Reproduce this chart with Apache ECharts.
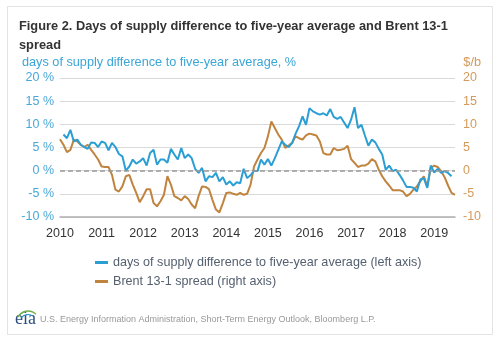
<!DOCTYPE html>
<html>
<head>
<meta charset="utf-8">
<script src="https://cdn.jsdelivr.net/npm/echarts@6/dist/echarts.min.js"></script>
<style>
html,body{margin:0;padding:0;background:#fff;}
#c{width:500px;height:340px;}
</style>
</head>
<body>
<div id="c"></div>
<script>
// Monthly categories Jan 2010 .. Jul 2019
var months = [];
for (var y = 2010; y <= 2019; y++) {
  for (var m = 1; m <= 12; m++) {
    if (y === 2019 && m > 7) break;
    months.push(y + '-' + (m < 10 ? '0' + m : m));
  }
}
var yearTicks = ['2010','2011','2012','2013','2014','2015','2016','2017','2018','2019'];
var leftTicks = [-10, -5, 0, 5, 10, 15, 20];

// days of supply difference to five-year average, %
var daysSupply = [
  null, 7.8, 7.0, 8.8, 6.3, 6.7, 5.6, 5.1, 4.7, 6.1, 6.0, 5.1,
  6.3, 6.0, 4.4, 6.0, 5.1, 3.6, 3.1, 0.0, 0.9, 2.4, 1.5, 2.0,
  2.7, 1.1, 3.8, 4.5, 1.3, 2.4, 2.4, 1.7, 4.7, 3.5, 2.4, 4.9,
  2.7, 3.5, 2.7, 0.4, -0.5, 0.6, -2.3, -1.2, -1.4, -0.5, -2.3, -1.4,
  -3.0, -2.3, -3.2, -2.5, -2.7, 0.4, -1.6, -1.0, 0.0, -0.1, 2.4, 1.3,
  2.5, 1.1, 2.7, 4.5, 6.3, 5.6, 5.1, 6.0, 8.0, 9.6, 11.7, 9.9,
  13.5, 12.8, 12.4, 12.1, 12.4, 11.9, 13.3, 11.6, 11.2, 11.6, 10.4, 9.2,
  11.0, 13.7, 9.2, 9.9, 7.6, 5.4, 6.7, 6.1, 4.7, 3.5, 0.2, 1.1,
  -0.1, 0.2, -0.9, -2.1, -3.5, -3.5, -3.7, -4.5, -1.9, -1.6, -3.7, 1.1,
  -0.4, 0.4, -0.5, -0.1, -0.5, -1.2, null
];
// Brent 13-1 spread, $/b
var brentSpread = [
  6.8, 5.6, 4.0, 4.5, 6.7, 6.3, 5.6, 5.1, 5.6, 4.5, 3.5, 2.4,
  0.9, 0.8, 0.8, -0.9, -4.1, -4.5, -3.4, -1.2, -0.9, -3.0, -4.8, -6.8,
  -5.5, -4.0, -4.0, -7.0, -7.7, -6.6, -5.2, -1.2, -3.0, -5.5, -5.9, -6.4,
  -5.5, -6.1, -7.3, -8.1, -5.5, -3.4, -3.5, -4.0, -6.3, -8.4, -9.0, -7.0,
  -4.8, -4.7, -5.0, -5.2, -4.8, -5.2, -5.0, -3.0, 0.9, 2.4, 3.8, 4.9,
  7.4, 10.6, 9.2, 7.8, 6.7, 4.9, 5.4, 6.0, 7.4, 7.0, 6.7, 7.6,
  8.0, 7.8, 7.6, 6.3, 3.8, 3.5, 3.5, 4.9, 4.4, 4.5, 4.7, 5.4,
  2.5, 1.7, 0.8, 1.1, 1.1, 1.5, 2.5, 2.0, 0.2, -1.2, -2.3, -3.2,
  -4.2, -4.2, -4.2, -4.5, -5.5, -5.0, -4.1, -3.4, -2.3, -1.2, -3.4, 0.6,
  1.1, 0.8, -0.1, -1.4, -3.2, -4.8, -5.2
];

var BLUE = '#2b9fd4';
var BROWN = '#c0843f';

var chart = echarts.init(document.getElementById('c'), null, {renderer: 'canvas'});
chart.setOption({
  animation: false,
  backgroundColor: '#fff',
  textStyle: {fontFamily: 'Liberation Sans, Arial, sans-serif'},
  grid: {left: 60, right: 45, top: 78, bottom: 123},
  graphic: [
    {type: 'rect', shape: {x: 7.5, y: 6.5, width: 485, height: 328}, style: {fill: 'none', stroke: '#e3e3e3', lineWidth: 1}, silent: true},
    {type: 'text', left: 19, top: 17, style: {text: 'Figure 2. Days of supply difference to five-year average and Brent 13-1\nspread', fill: '#333', font: 'bold 12.8px Liberation Sans, Arial, sans-serif', lineHeight: 19}},
    {type: 'text', left: 22, top: 56, style: {text: 'days of supply difference to five-year average, %', fill: '#3aa6d8', font: '12.7px Liberation Sans, Arial, sans-serif'}},
    {type: 'text', right: 19, top: 56, style: {text: '$/b', fill: '#d49a5a', font: '12.7px Liberation Sans, Arial, sans-serif'}},
    {type: 'text', left: 15, top: 310, style: {text: 'eia', fill: '#2c4f7e', font: '18px Liberation Serif, serif'}},
    {type: 'arc', shape: {cx: 28, cy: 322, r: 11, startAngle: Math.PI * 1.15, endAngle: Math.PI * 1.75}, style: {stroke: '#6fb04a', fill: 'none', lineWidth: 1.5}},
    {type: 'arc', shape: {cx: 28, cy: 323, r: 8.5, startAngle: Math.PI * 1.2, endAngle: Math.PI * 1.7}, style: {stroke: '#2a8fc8', fill: 'none', lineWidth: 1.2}},
    {type: 'text', left: 40, top: 315, style: {text: 'U.S. Energy Information Administration, Short-Term Energy Outlook, Bloomberg L.P.', fill: '#999', font: '9px Liberation Sans, Arial, sans-serif'}}
  ],
  legend: {
    orient: 'vertical',
    left: 90,
    top: 251,
    itemGap: 6,
    itemWidth: 13,
    itemHeight: 3,
    icon: 'rect',
    textStyle: {color: '#556070', fontSize: 12.6},
    data: ['days of supply difference to five-year average (left axis)', 'Brent 13-1 spread (right axis)']
  },
  xAxis: {
    type: 'category',
    data: months,
    boundaryGap: false,
    axisLine: {onZero: false, lineStyle: {color: '#b0b0b0', width: 1.5}},
    axisTick: {show: false},
    axisLabel: {
      interval: 11,
      margin: 10,
      color: '#333',
      fontSize: 12.5,
      formatter: function (v) { var y = v.slice(0, 4); return yearTicks.indexOf(y) >= 0 && v.slice(5) === '01' ? y : ''; }
    },
    splitLine: {show: false}
  },
  yAxis: [
    {
      type: 'value', min: leftTicks[0], max: leftTicks[leftTicks.length - 1], interval: 5,
      axisLine: {show: false}, axisTick: {show: false},
      axisLabel: {color: '#4aa8d8', fontSize: 12.5, margin: 6, formatter: function (v) { return v + ' %'; }},
      splitLine: {lineStyle: {color: '#d9d9d9', width: 1}}
    },
    {
      type: 'value', min: leftTicks[0], max: leftTicks[leftTicks.length - 1], interval: 5, position: 'right',
      axisLine: {show: false}, axisTick: {show: false},
      axisLabel: {color: '#d49a5a', fontSize: 12.5, margin: 8},
      splitLine: {show: false}
    }
  ],
  series: [
    {
      name: 'days of supply difference to five-year average (left axis)',
      type: 'line', yAxisIndex: 0, data: daysSupply, symbol: 'none', connectNulls: false,
      lineStyle: {color: BLUE, width: 2}, itemStyle: {color: BLUE}, z: 3,
      markLine: {
        silent: true, symbol: 'none', label: {show: false},
        lineStyle: {color: '#999', type: [5, 3], width: 1.5},
        data: [{yAxis: 0}]
      }
    },
    {
      name: 'Brent 13-1 spread (right axis)',
      type: 'line', yAxisIndex: 1, data: brentSpread, symbol: 'none',
      lineStyle: {color: BROWN, width: 2}, itemStyle: {color: BROWN}, z: 2
    }
  ]
});
</script>
</body>
</html>
